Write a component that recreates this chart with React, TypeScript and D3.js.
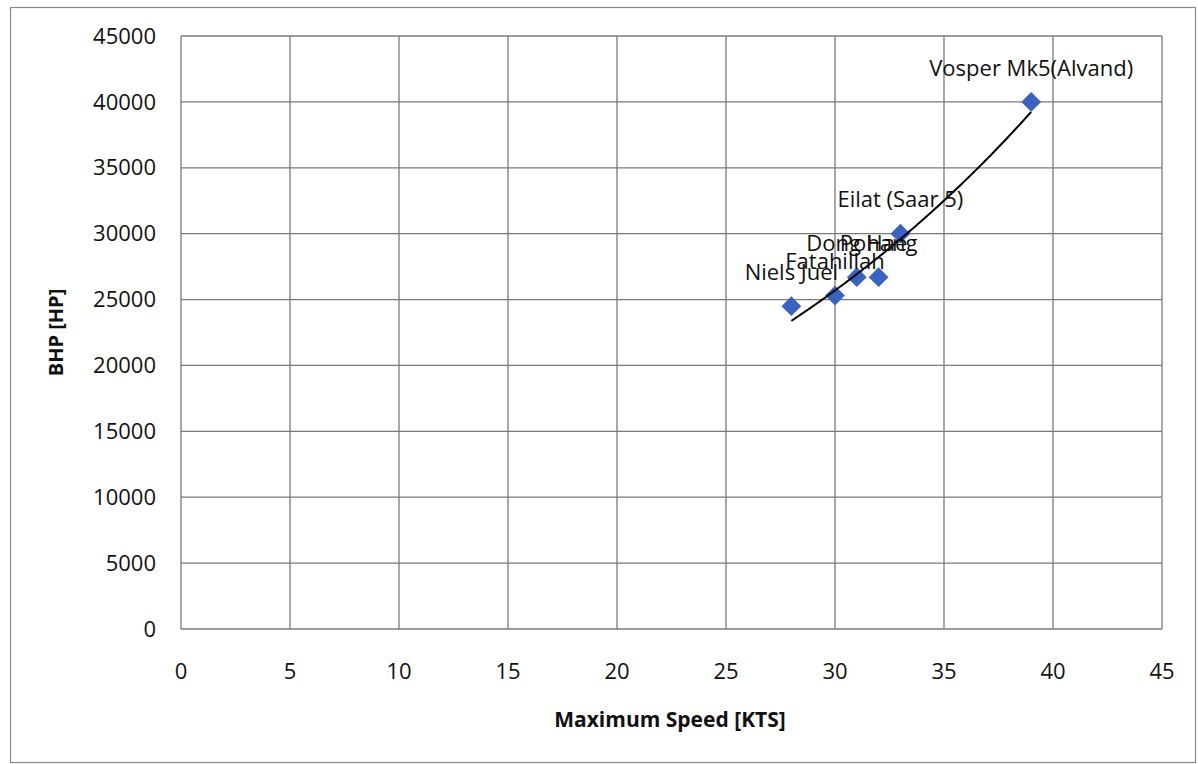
import React from "react";
import * as d3 from "d3";

const speeds = [28, 30, 31, 32, 33, 39];
const bhp = [24500, 25300, 26700, 26700, 30000, 40000];
const names = ["Niels Juel", "Fatahillah", "Dong Hae", "Pohang", "Eilat (Saar 5)", "Vosper Mk5(Alvand)"];
const xTicks = [0, 5, 10, 15, 20, 25, 30, 35, 40, 45];
const yTicks = [0, 5000, 10000, 15000, 20000, 25000, 30000, 35000, 40000, 45000];

const W = 1198, H = 764;
const L = 181, R = 1162, T = 36, B = 629;
const FONT = "'Open Sans', 'Liberation Sans', sans-serif";

export default function App() {
  const x = d3.scaleLinear().domain([0, 45]).range([L, R]);
  const y = d3.scaleLinear().domain([0, 45000]).range([B, T]);

  // exponential trendline fit (least squares on ln y)
  const lny = bhp.map(Math.log);
  const mx = d3.mean(speeds)!;
  const my = d3.mean(lny)!;
  const b = d3.sum(speeds.map((s, i) => (s - mx) * (lny[i] - my))) / d3.sum(speeds.map((s) => (s - mx) ** 2));
  const a = my - b * mx;
  const xmin = d3.min(speeds)!, xmax = d3.max(speeds)!;
  const trend = d3.range(0, 101).map((k) => {
    const s = xmin + ((xmax - xmin) * k) / 100;
    return [s, Math.exp(a + b * s)] as [number, number];
  });
  const line = d3.line<[number, number]>().x((d) => x(d[0])).y((d) => y(d[1]));
  const diamond = d3.symbol().type(d3.symbolDiamond2 ?? d3.symbolDiamond).size(250)();

  return (
    <svg width={W} height={H} style={{ position: "absolute", left: 0, top: 0, background: "#fff" }}>
      <rect x={10.5} y={7.5} width={1185} height={755} fill="#fff" stroke="#888" strokeWidth={1.2} />
      {xTicks.map((t) => (
        <line key={"gx" + t} x1={x(t)} x2={x(t)} y1={T} y2={B} stroke="#7a7a7a" strokeWidth={1.3} />
      ))}
      {yTicks.map((t) => (
        <line key={"gy" + t} x1={L} x2={R} y1={y(t)} y2={y(t)} stroke="#7a7a7a" strokeWidth={1.3} />
      ))}
      {yTicks.map((t) => (
        <text key={"ty" + t} x={L - 25} y={y(t)} dy="0.35em" textAnchor="end" fontFamily={FONT} fontSize={22} fill="#111">
          {t}
        </text>
      ))}
      {xTicks.map((t) => (
        <text key={"tx" + t} x={x(t)} y={B + 42} dy="0.35em" textAnchor="middle" fontFamily={FONT} fontSize={22} fill="#111">
          {t}
        </text>
      ))}
      <text x={670} y={720} dy="0.35em" textAnchor="middle" fontFamily={FONT} fontSize={21} fontWeight="bold" fill="#111">
        Maximum Speed [KTS]
      </text>
      <text transform={`translate(56,${(T + B) / 2}) rotate(-90)`} dy="0.35em" textAnchor="middle" fontFamily={FONT} fontSize={20} fontWeight="bold" fill="#111">
        BHP [HP]
      </text>
      {speeds.map((s, i) => (
        <path key={"p" + i} d={diamond!} transform={`translate(${x(s)},${y(bhp[i])})`} fill="#3a62bf" />
      ))}
      <path d={line(trend)!} fill="none" stroke="#000" strokeWidth={2} />
      {speeds.map((s, i) => (
        <text key={"l" + i} x={x(s)} y={y(bhp[i]) - 34} dy="0.35em" textAnchor="middle" fontFamily={FONT} fontSize={22} fill="#111">
          {names[i]}
        </text>
      ))}
    </svg>
  );
}
